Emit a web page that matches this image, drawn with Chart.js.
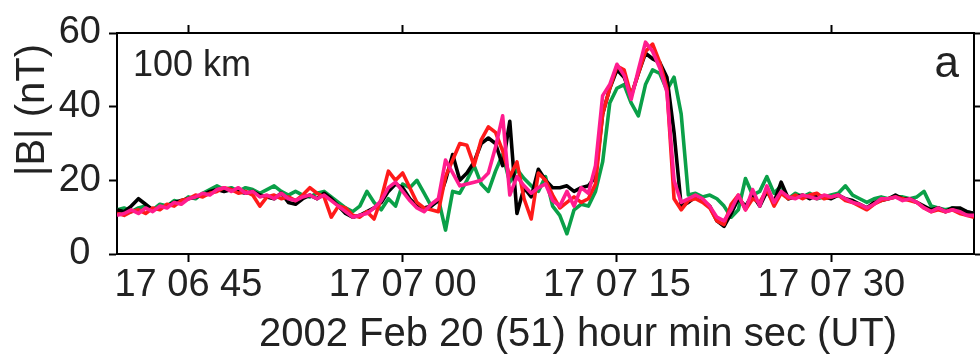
<!DOCTYPE html>
<html>
<head>
<meta charset="utf-8">
<title>|B| at 100 km</title>
<script src="https://cdn.jsdelivr.net/npm/chart.js@4.4.1/dist/chart.umd.min.js"></script>
<style>
  html, body { margin: 0; padding: 0; background: #fff; }
  #wrap { width: 980px; height: 361px; }
</style>
</head>
<body>
<div id="wrap"><canvas id="bChart" width="980" height="361"></canvas></div>
<script>
// Time axis: seconds after 17:06:00 UT, one sample every half second
const T_START = 40;
const T_STEP = 0.5;
const timeTicks = [45, 60, 75, 90];
const bTicks = [0, 20, 40, 60];

// |B| (nT) for the four spacecraft, 17:06:40 - 17:07:40
const bBlack = [
  12, 11.5, 13, 15, 13.5, 12, 12.5, 13, 14, 14.5,
  15, 15.5, 16, 17, 17.5, 17, 17.5, 17, 16.5, 17,
  16, 15.5, 15, 16.5, 14, 13.5, 15, 16, 15, 16.5,
  15, 13, 11, 10, 10.5, 11.5, 12.5, 14, 17, 19,
  18, 15, 13, 12.5, 13, 14.5, 20, 27, 20, 22,
  25, 30, 31.5, 30, 24, 36, 11, 18, 15.5, 23,
  20, 18, 18, 18.5, 17, 18, 18.5, 21, 38, 45,
  50, 48, 43, 49, 54.5, 53, 52, 48, 33, 13,
  14, 15.5, 14.5, 13, 9, 7.5, 11, 15, 13, 16,
  13, 17, 14, 19.5, 15, 15.5, 16, 15, 16, 15.5,
  15, 16, 15, 14.5, 13.5, 12.5, 14, 14.5, 15, 16,
  15, 15, 14, 13, 12, 12.5, 11.5, 12.5, 12.5, 11.5,
  11
];
const bRed = [
  11, 10.5, 11.5, 12, 11, 12.5, 12, 13.5, 13, 14.5,
  15, 16, 15.5, 16.5, 17, 18, 17.5, 16.5, 17, 16,
  13, 15.5, 16, 15, 15.5, 14.5, 16, 18, 16.5, 15.5,
  10, 13, 12.5, 10.5, 10, 11.5, 9.5, 15, 22.5, 20,
  22, 18, 14, 12.5, 12, 11.5, 21, 25.5, 30, 29.5,
  24, 31, 34.5, 33, 28, 21, 25, 15, 9.5, 22,
  20, 16, 12.5, 14, 15.5, 14, 15, 19, 38, 45,
  51, 50, 43, 49, 55, 57, 52, 45, 15, 12,
  14.5, 15, 14, 12.5, 9, 8, 13.5, 16, 12, 15,
  14, 17.5, 13, 16.5, 15, 16, 15, 16, 16.5, 15,
  15.5, 16, 14.5, 14, 13, 12, 13.5, 14.5, 15, 15.5,
  15, 14.5, 14, 12.5, 11.5, 12, 11.5, 12, 11, 10.5,
  10
];
const bGreen = [
  12, 12.5, 11.5, 12.5, 13, 12, 13.5, 13, 14.5, 14,
  15.5, 15, 16.5, 17.5, 18.5, 17.5, 18, 17, 18, 17.5,
  16.5, 17.5, 18.5, 17, 16, 17, 16, 15.5, 16.5, 17,
  15.5, 14, 12.5, 11.5, 13, 17, 14, 12, 15, 13,
  19, 18, 20, 16.5, 13, 15, 6.5, 17, 16.5, 20,
  24, 19, 17, 22.5, 27, 19.5, 23, 20.5, 18.5, 17,
  21, 13, 10.5, 5.5, 12, 13.5, 13, 17, 25, 41,
  45, 46, 41, 37.5, 46, 50, 49, 44.5, 48, 38,
  16, 16.5, 15.5, 16, 15, 13, 10, 12, 20.5, 16,
  17, 21, 16.5, 18.5, 15, 16.5, 15.5, 16.5, 15, 15.5,
  16, 16.5, 18.5, 16, 15, 14, 15, 15.5, 15, 15.5,
  15.5, 15, 15.5, 17, 13, 12.5, 12, 12.5, 12, 11.5,
  11
];
const bPink = [
  10.5, 11, 12, 11, 12.5, 11.5, 13, 12.5, 14, 13.5,
  15, 15.5, 16.5, 16, 17.5, 18, 17, 18, 16.5, 17,
  15.5, 16, 15, 16.5, 15, 14.5, 15.5, 16, 15, 16,
  14.5, 13, 11.5, 10, 10.5, 11, 12.5, 14.5, 18, 19.5,
  17, 14.5, 12.5, 11.5, 13.5, 15, 25.5, 22, 18.5, 19,
  19.5, 20, 22, 29, 37.5, 16, 21, 18.5, 16.5, 18,
  19, 14.5, 13, 17, 13, 18, 16.5, 24, 43, 46,
  51.5, 48.5, 42, 50, 57.5, 55, 50.5, 44, 20, 14,
  15, 16, 15, 13, 10, 9, 12, 16, 12, 17.5,
  13, 18.5, 14, 17, 15.5, 15, 16, 15.5, 15, 16,
  15.5, 16, 15, 14, 13.5, 12.5, 13.5, 15, 15, 15.5,
  14.5, 15, 14, 12.5, 11.5, 12.5, 11.5, 12, 11.5, 10.5,
  10.5
];

const FONT = "'Liberation Sans', Arial, sans-serif";
const TEXT_COLOR = '#222';

function pad2(n) {
  return String(n).padStart(2, '0');
}

// 17 hh mm ss label for a time given in seconds after 17:06:00
function fmtTime(sec) {
  const total = 6 * 60 + sec;
  const m = Math.floor(total / 60);
  const s = Math.round(total - m * 60);
  return '17 ' + pad2(m) + ' ' + pad2(s);
}

function toPoints(values) {
  return values.map((v, i) => ({ x: T_START + i * T_STEP, y: v }));
}

function series(label, values, color) {
  return {
    label,
    data: toPoints(values),
    borderColor: color,
    borderWidth: 3.6,
    borderJoinStyle: 'round',
    pointRadius: 0,
    tension: 0,
    fill: false,
  };
}

// Outward tick marks on all four sides, black frame
function frameAxis(position, size, showLabels, tickValues, extra) {
  return Object.assign({
    type: 'linear',
    position,
    afterBuildTicks: (scale) => {
      scale.ticks = tickValues.map((v) => ({ value: v }));
    },
    afterFit: (scale) => {
      if (scale.isHorizontal()) scale.height = size;
      else scale.width = size;
    },
    grid: {
      drawOnChartArea: false,
      drawTicks: true,
      tickLength: 8,
      tickWidth: 2,
      tickColor: '#000',
    },
    border: { display: true, color: '#000', width: 2 },
    ticks: {
      display: showLabels,
      font: { family: FONT, size: 38 },
      color: TEXT_COLOR,
      autoSkip: false,
      maxRotation: 0,
    },
  }, extra);
}

// Axis titles and panel annotations
const textPlugin = {
  id: 'panelText',
  afterDraw(chart) {
    const ctx = chart.ctx;
    ctx.save();
    ctx.fillStyle = TEXT_COLOR;
    ctx.textBaseline = 'alphabetic';

    ctx.font = '40px ' + FONT;
    ctx.textAlign = 'center';
    ctx.fillText('2002 Feb 20 (51) hour min sec (UT)', 578, 346);

    ctx.save();
    ctx.translate(44, 110);
    ctx.rotate(-Math.PI / 2);
    ctx.fillText('|B| (nT)', 0, 0);
    ctx.restore();

    ctx.font = '36px ' + FONT;
    ctx.textAlign = 'left';
    ctx.fillText('100 km', 133, 76);

    ctx.font = '44px ' + FONT;
    ctx.textAlign = 'right';
    ctx.fillText('a', 959, 77);
    ctx.restore();
  },
};

const xMain = frameAxis('bottom', 107, true, timeTicks, { min: 40, max: 100 });
xMain.ticks.callback = (value) => fmtTime(value);
xMain.ticks.padding = 1;

const yMain = frameAxis('left', 117, true, bTicks, { min: 0, max: 60 });
yMain.ticks.crossAlign = 'center';
yMain.ticks.padding = 8;

// Chart.js paints the first dataset last, so pink ends up on top
new Chart(document.getElementById('bChart'), {
  type: 'line',
  data: {
    datasets: [
      series('Pink', bPink, '#ff1c8e'),
      series('Red', bRed, '#ff1a1a'),
      series('Black', bBlack, '#000000'),
      series('Green', bGreen, '#0aa048'),
    ],
  },
  options: {
    responsive: false,
    animation: false,
    devicePixelRatio: 1,
    layout: { padding: 0 },
    plugins: {
      legend: { display: false },
      tooltip: { enabled: false },
    },
    scales: {
      x: xMain,
      xTop: frameAxis('top', 33, false, timeTicks, { min: 40, max: 100 }),
      y: yMain,
      yRight: frameAxis('right', 6, false, bTicks, { min: 0, max: 60 }),
    },
  },
  plugins: [textPlugin],
});
</script>
</body>
</html>
